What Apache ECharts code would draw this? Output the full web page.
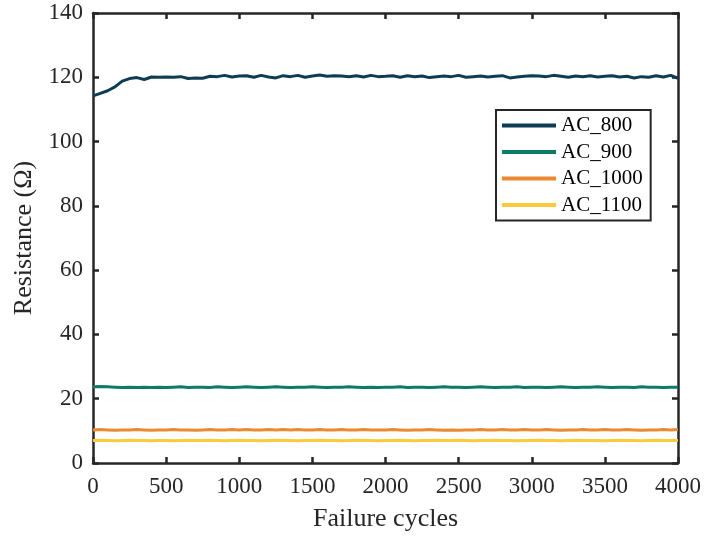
<!DOCTYPE html>
<html>
<head>
<meta charset="utf-8">
<script src="https://cdn.jsdelivr.net/npm/echarts@6/dist/echarts.min.js"></script>
<style>html,body{margin:0;padding:0;background:#fff}#c{width:704px;height:537px}</style>
</head>
<body>
<div id="c"></div>
<script>
const cycles = [];
for (let c = 0; c <= 4000; c += 50) cycles.push(c);

const ac800 = [114.2,115.0,115.8,117.0,118.8,119.6,119.9,119.3,120.1,120.0,
120.1,120.0,120.2,119.6,119.8,119.7,120.3,120.2,120.6,120.1,
120.4,120.5,120.0,120.6,120.1,119.8,120.5,120.2,120.6,120.0,
120.4,120.7,120.3,120.5,120.4,120.2,120.5,120.1,120.6,120.2,
120.3,120.5,120.0,120.5,120.2,120.4,119.9,120.2,120.4,120.2,
120.6,120.0,120.2,120.4,120.1,120.3,120.5,119.8,120.1,120.3,
120.5,120.4,120.2,120.6,120.3,120.0,120.4,120.2,120.5,120.1,
120.3,120.5,120.1,120.3,119.8,120.2,120.0,120.5,120.1,120.6,119.7];

const ac900 = [23.7,23.8,23.7,23.6,23.5,23.6,23.5,23.6,23.5,23.6,
23.5,23.6,23.7,23.5,23.6,23.6,23.5,23.7,23.6,23.5,
23.6,23.7,23.6,23.5,23.6,23.7,23.6,23.5,23.6,23.6,
23.7,23.6,23.5,23.6,23.6,23.7,23.6,23.5,23.6,23.5,
23.6,23.6,23.7,23.5,23.6,23.6,23.5,23.6,23.7,23.6,
23.6,23.5,23.6,23.7,23.6,23.5,23.6,23.6,23.7,23.5,
23.6,23.6,23.5,23.6,23.7,23.6,23.5,23.6,23.6,23.7,
23.6,23.5,23.6,23.6,23.5,23.7,23.6,23.6,23.5,23.6,23.6];

const ac1000 = [10.3,10.4,10.3,10.2,10.3,10.3,10.4,10.3,10.2,10.3,
10.3,10.4,10.3,10.3,10.2,10.3,10.4,10.3,10.3,10.4,
10.3,10.4,10.3,10.3,10.4,10.3,10.4,10.3,10.4,10.3,
10.3,10.4,10.3,10.3,10.4,10.3,10.3,10.4,10.3,10.3,
10.3,10.4,10.3,10.2,10.3,10.3,10.4,10.3,10.2,10.3,
10.2,10.3,10.3,10.4,10.3,10.3,10.4,10.3,10.3,10.4,
10.3,10.3,10.4,10.3,10.2,10.3,10.3,10.4,10.3,10.3,
10.4,10.3,10.3,10.4,10.3,10.2,10.3,10.3,10.4,10.3,10.4];

const ac1100 = [7.0,7.1,7.0,6.9,7.0,7.1,7.0,7.0,6.9,7.0,
7.0,6.9,7.0,7.1,7.0,7.0,7.1,7.0,6.9,7.0,
7.1,7.0,7.0,6.9,7.0,7.1,7.0,7.0,6.9,7.0,
7.0,7.1,7.0,7.0,6.9,7.0,7.1,7.0,7.0,6.9,
7.0,7.0,7.1,7.0,6.9,7.0,7.0,7.1,7.0,7.0,
7.1,7.0,6.9,7.0,7.0,7.1,7.0,7.0,6.9,7.0,
7.0,7.1,7.0,7.0,6.9,7.0,7.1,7.0,7.0,7.0,
6.9,7.0,7.1,7.0,7.0,6.9,7.0,7.1,7.0,7.0,7.0];

const names = ['AC_800','AC_900','AC_1000','AC_1100'];
const colors = ['#0d3c53','#0f7a66','#ea8a33','#fcca3c'];
const seriesData = [ac800, ac900, ac1000, ac1100];

const font = 'Liberation Serif';
const axisColor = '#262626';

const chart = echarts.init(document.getElementById('c'));
const mk = (vals) => cycles.map((c, i) => [c, vals[i]]);

chart.setOption({
  animation: false,
  backgroundColor: '#fff',
  grid: { left: 93, top: 13, right: 26, bottom: 72, containLabel: false },
  legend: {
    orient: 'vertical',
    left: 496, top: 110,
    data: names,
    icon: 'rect',
    itemWidth: 54, itemHeight: 4,
    itemGap: 5.5,
    padding: [5, 8, 5, 6],
    borderColor: '#262626', borderWidth: 2,
    backgroundColor: '#fff',
    textStyle: { fontFamily: font, fontSize: 21, color: '#000' }
  },
  xAxis: [{
    type: 'value', min: 0, max: 4000, interval: 500,
    name: 'Failure cycles', nameLocation: 'middle', nameGap: 43,
    nameTextStyle: { fontFamily: font, fontSize: 26, color: '#262626' },
    axisLine: { show: true, onZero: false, lineStyle: { color: axisColor, width: 2.5 } },
    axisTick: { show: true, inside: true, length: 6, lineStyle: { color: axisColor, width: 2.5 } },
    axisLabel: { fontFamily: font, fontSize: 23, color: '#262626', margin: 12, formatter: (v) => String(v) },
    splitLine: { show: false }
  }, {
    type: 'value', min: 0, max: 4000, interval: 500, position: 'top',
    axisLine: { show: true, onZero: false, lineStyle: { color: axisColor, width: 2.5 } },
    axisTick: { show: true, inside: true, length: 6, lineStyle: { color: axisColor, width: 2.5 } },
    axisLabel: { show: false }, splitLine: { show: false }
  }],
  yAxis: [{
    type: 'value', min: 0, max: 140, interval: 20,
    name: 'Resistance (Ω)', nameLocation: 'middle', nameGap: 53,
    nameTextStyle: { fontFamily: font, fontSize: 26, color: '#262626' },
    axisLine: { show: true, onZero: false, lineStyle: { color: axisColor, width: 2.5 } },
    axisTick: { show: true, inside: true, length: 6, lineStyle: { color: axisColor, width: 2.5 } },
    axisLabel: { fontFamily: font, fontSize: 23, color: '#262626', margin: 10, formatter: (v) => String(v) },
    splitLine: { show: false }
  }, {
    type: 'value', min: 0, max: 140, interval: 20, position: 'right',
    axisLine: { show: true, onZero: false, lineStyle: { color: axisColor, width: 2.5 } },
    axisTick: { show: true, inside: true, length: 6, lineStyle: { color: axisColor, width: 2.5 } },
    axisLabel: { show: false }, splitLine: { show: false }
  }],
  series: names.map((n, i) => ({
    name: n, type: 'line', data: mk(seriesData[i]),
    showSymbol: false, symbol: 'none',
    itemStyle: { color: colors[i] },
    lineStyle: { color: colors[i], width: 3 },
    z: 2
  }))
});
</script>
</body>
</html>
